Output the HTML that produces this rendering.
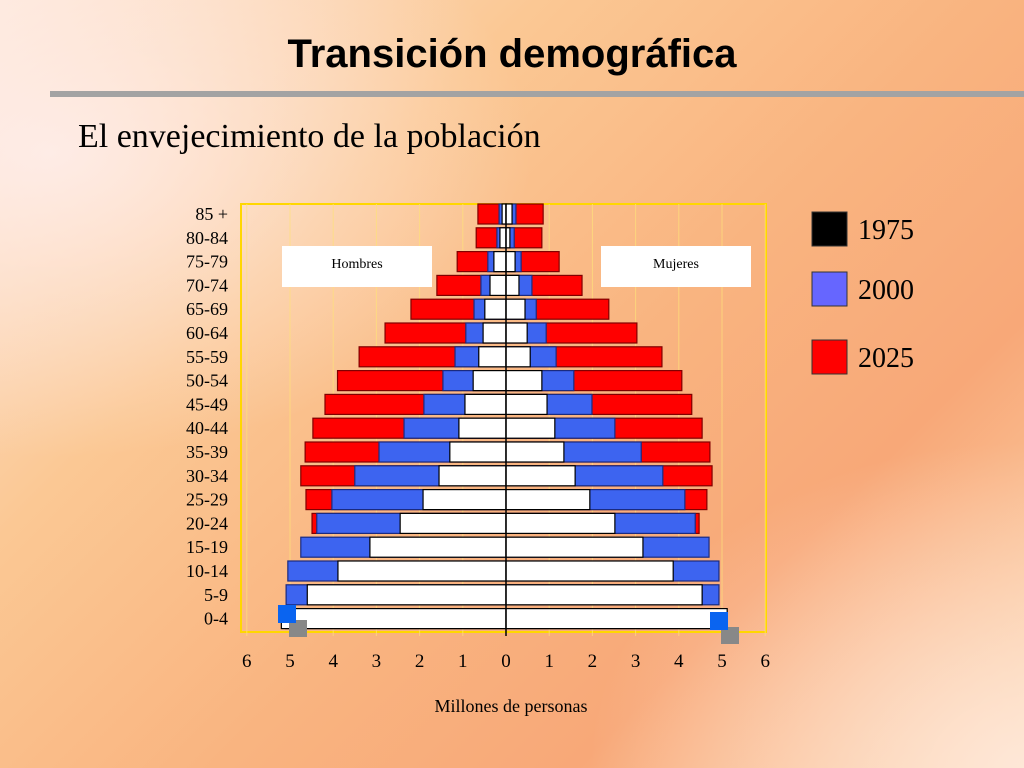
<!DOCTYPE html>
<html><head><meta charset="utf-8"><style>
body{margin:0;width:1024px;height:768px;overflow:hidden;position:relative;font-family:"Liberation Serif",serif;
background:linear-gradient(135deg,#fde6d6 0%,#fbc894 30%,#f9b480 55%,#f8a878 75%,#fcd8b0 100%);}
.abs{position:absolute}
</style></head><body>
<div class="abs" style="left:0;top:0;width:1024px;height:768px;background:radial-gradient(ellipse at 5% 20%,rgba(255,240,240,0.8),rgba(255,240,240,0) 35%),radial-gradient(ellipse at 100% 100%,rgba(255,235,225,0.8),rgba(255,235,225,0) 30%)"></div>
<div class="abs" style="left:0;width:1024px;top:32px;text-align:center;font-family:'Liberation Sans',sans-serif;font-weight:bold;font-size:40px;color:#000">Transición demográfica</div>
<div class="abs" style="left:50px;top:91px;width:974px;height:6px;background:#a3a3a3"></div>
<div class="abs" style="left:78px;top:118px;font-size:34px;color:#000">El envejecimiento de la población</div>
<svg class="abs" style="left:0;top:0" width="1024" height="768">
<g id="g"></g>
</svg>
<script>
const ageGroups=["85 +","80-84","75-79","70-74","65-69","60-64","55-59","50-54","45-49","40-44","35-39","30-34","25-29","20-24","15-19","10-14","5-9","0-4"];
const men1975=[0.09,0.14,0.28,0.37,0.49,0.53,0.63,0.76,0.95,1.09,1.3,1.55,1.92,2.45,3.15,3.89,4.6,5.2];
const women1975=[0.14,0.09,0.21,0.3,0.44,0.49,0.56,0.83,0.95,1.13,1.34,1.6,1.94,2.52,3.17,3.87,4.54,5.12];
const men2000=[0.16,0.21,0.42,0.58,0.74,0.93,1.18,1.46,1.9,2.36,2.94,3.5,4.03,4.38,4.75,5.05,5.09,5.1];
const women2000=[0.23,0.19,0.35,0.6,0.7,0.93,1.16,1.57,1.99,2.52,3.13,3.63,4.14,4.38,4.7,4.93,4.93,5.0];
const men2025=[0.65,0.69,1.13,1.6,2.2,2.8,3.4,3.9,4.19,4.47,4.65,4.75,4.63,4.49,0,0,0,0];
const women2025=[0.86,0.83,1.23,1.76,2.38,3.03,3.61,4.07,4.3,4.54,4.72,4.77,4.65,4.47,0,0,0,0];
const xTicks=[6,5,4,3,2,1,0,1,2,3,4,5,6];
const legendYears=["1975","2000","2025"];
const legendColors=["#000000","#6666ff","#ff0000"];
const NS="http://www.w3.org/2000/svg",g=document.getElementById('g');
const x0=506,ppu=43.2,plotL=241,plotR=766,plotT=204,plotB=632;
const xs=v=>v*ppu; const yc=i=>214+i*23.8;
function mk(t,a,p){const e=document.createElementNS(NS,t);for(const k in a)e.setAttribute(k,a[k]);(p||g).appendChild(e);return e;}
let r=mk('rect',{x:plotL,y:plotT,width:plotR-plotL,height:plotB-plotT,fill:'none',stroke:'#ffd700','stroke-width':2});


for(let k=-6;k<=6;k++){let l=mk('line',{x1:x0+k*ppu,x2:x0+k*ppu,y1:plotT,y2:plotB+4,stroke:'#ffe27a','stroke-width':1,opacity:0.7});

}
function bar(i,left,right,fill,stroke,nm){const h=20;
let a=mk('rect',{x:x0-xs(left),y:yc(i)-h/2,width:xs(left),height:h,fill:fill,stroke:stroke,'stroke-width':1.2});


let b=mk('rect',{x:x0,y:yc(i)-h/2,width:xs(right),height:h,fill:fill,stroke:stroke,'stroke-width':1.2});

}
ageGroups.forEach((a,i)=>{if(men2025[i]>0)bar(i,men2025[i],women2025[i],'#ff0000','#800000','bar-2025');});
ageGroups.forEach((a,i)=>bar(i,men2000[i],women2000[i],'#3d64f0','#1a2a80','bar-2000'));
ageGroups.forEach((a,i)=>bar(i,men1975[i],women1975[i],'#ffffff','#000000','bar-1975'));
let ax=mk('line',{x1:x0,x2:x0,y1:plotT,y2:plotB+4,stroke:'#000','stroke-width':1.5});


ageGroups.forEach((a,i)=>{let t=mk('text',{x:228,y:yc(i)+6,'text-anchor':'end','font-size':18,'font-family':'Liberation Serif,serif'});t.textContent=a;

});
xTicks.forEach((v,k)=>{let t=mk('text',{x:x0+(k-6)*ppu,y:667,'text-anchor':'middle','font-size':19,'font-family':'Liberation Serif,serif'});t.textContent=v;

});
let xt=mk('text',{x:511,y:712,'text-anchor':'middle','font-size':18,'font-family':'Liberation Serif,serif'});xt.textContent='Millones de personas';


[["Hombres",282],["Mujeres",601]].forEach(([s,x])=>{let b=mk('rect',{x:x,y:246,width:150,height:41,fill:'#fff'});


let t=mk('text',{x:x+75,y:268,'text-anchor':'middle','font-size':14,'font-family':'Liberation Serif,serif'});t.textContent=s;

});
legendYears.forEach((y,i)=>{const ty=[212,272,340][i];
let s=mk('rect',{x:812,y:ty,width:35,height:34,fill:legendColors[i],stroke:'#333','stroke-width':1});


let t=mk('text',{x:858,y:ty+27,'font-size':28,'font-family':'Liberation Serif,serif'});t.textContent=y;

});
[[287,614],[719,621]].forEach(([x,y],k)=>{let gr=mk('rect',{x:x+2,y:y+6,width:18,height:17,fill:'#888'});


let b=mk('rect',{x:x-9,y:y-9,width:18,height:18,fill:'#0a64f0'});

});
</script>
</body></html>
